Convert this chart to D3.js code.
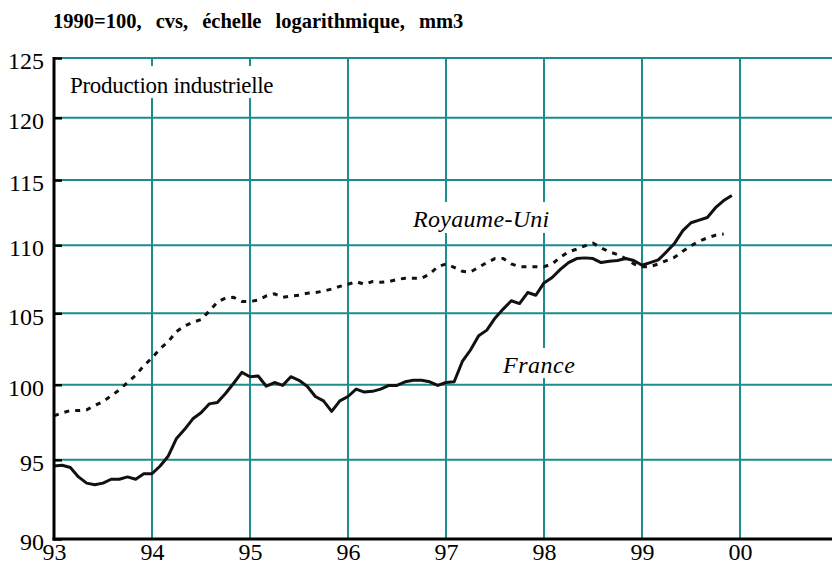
<!DOCTYPE html>
<html>
<head>
<meta charset="utf-8">
<script src="https://cdn.jsdelivr.net/npm/d3@7"></script>
<style>
  html, body { margin: 0; padding: 0; background: #fff; }
  svg { display: block; }
</style>
</head>
<body>
<svg id="chart" width="832" height="565"></svg>
<script>
// ---- Data (monthly, index 1990 = 100, seasonally adjusted, 3-month moving average) ----
const startYear = 1993;
const franceValues = [
  94.6, 94.65, 94.5, 93.9, 93.5, 93.4, 93.5, 93.75, 93.75, 93.9, 93.75, 94.1,
  94.1, 94.6, 95.25, 96.4, 97.0, 97.7, 98.1, 98.7, 98.8, 99.4, 100.1, 100.85,
  100.55, 100.6, 99.9, 100.15, 99.95, 100.55, 100.3, 99.9, 99.2, 98.9, 98.2, 98.9,
  99.2, 99.7, 99.5, 99.55, 99.7, 99.95, 99.95, 100.2, 100.3, 100.3, 100.2, 99.95,
  100.15, 100.2, 101.6, 102.4, 103.4, 103.8, 104.65, 105.3, 105.9, 105.7, 106.5, 106.3,
  107.2, 107.6, 108.2, 108.7, 109.0, 109.05, 109.0, 108.7, 108.8, 108.85, 109.0, 108.85,
  108.5, 108.7, 108.9, 109.5, 110.15, 111.1, 111.7, 111.9, 112.1, 112.85, 113.4, 113.8
];
const ukValues = [
  97.9, 98.1, 98.25, 98.25, 98.3, 98.6, 98.85, 99.25, 99.65, 100.15, 100.65, 101.3,
  101.85, 102.5, 103.0, 103.7, 104.1, 104.35, 104.55, 105.15, 105.8, 106.1, 106.15, 105.85,
  105.85, 105.95, 106.25, 106.4, 106.15, 106.25, 106.3, 106.45, 106.5, 106.6, 106.75, 106.95,
  107.1, 107.3, 107.1, 107.3, 107.25, 107.3, 107.45, 107.55, 107.55, 107.55, 107.85, 108.4,
  108.6, 108.35, 108.05, 108.0, 108.35, 108.7, 109.0, 109.0, 108.6, 108.4, 108.4, 108.4,
  108.4, 108.6, 109.1, 109.5, 109.7, 109.95, 110.15, 109.8, 109.5, 109.3, 109.0, 108.6,
  108.4, 108.4, 108.6, 108.85, 109.1, 109.55, 109.95, 110.3, 110.55, 110.75, 110.85
];
const yTickValues = [90, 95, 100, 105, 110, 115, 120, 125];
const xTickYears = [1993, 1994, 1995, 1996, 1997, 1998, 1999, 2000];
const xTickLabels = ["93", "94", "95", "96", "97", "98", "99", "00"];
const titleText = "1990=100, cvs, échelle logarithmique, mm3";
const panelTitle = "Production industrielle";
const seriesLabels = ["Royaume-Uni", "France"];

// ---- Layout ----
const svg = d3.select("#chart");
const plotLeft = 54, plotTop = 58, plotBottom = 539;
const gridColor = "#1f8c8c";
const serif = "Liberation Serif";

const x = d3.scaleLinear().domain([1993, 2001]).range([plotLeft, 838]);
const y = d3.scaleLog().domain([90, 125]).range([plotBottom, plotTop]);

svg.append("rect").attr("width", 832).attr("height", 565).attr("fill", "#fff");

// Title
svg.append("text")
  .attr("x", 53).attr("y", 28)
  .attr("font-family", serif)
  .attr("font-size", 20.5).attr("font-weight", "bold")
  .attr("word-spacing", 9)
  .attr("fill", "#000")
  .text(titleText);

// Grid
const grid = svg.append("g");
grid.selectAll("line.h")
  .data(yTickValues.filter(v => v !== 90))
  .join("line")
  .attr("x1", plotLeft).attr("x2", 832)
  .attr("y1", d => y(d)).attr("y2", d => y(d))
  .attr("stroke", gridColor).attr("stroke-width", 2);
grid.selectAll("line.v")
  .data(xTickYears.filter(v => v !== 1993))
  .join("line")
  .attr("x1", d => x(d)).attr("x2", d => x(d))
  .attr("y1", plotTop).attr("y2", plotBottom)
  .attr("stroke", gridColor).attr("stroke-width", 2);

// Label boxes (interrupt grid)
function labelBox(x0, y0, w, h) {
  svg.append("rect").attr("x", x0).attr("y", y0).attr("width", w).attr("height", h).attr("fill", "#fff");
}
labelBox(64, 66, 222, 32);
labelBox(408, 202, 150, 31);
labelBox(499, 348, 80, 30);

svg.append("text").attr("x", 70).attr("y", 93).attr("font-size", 23)
  .attr("font-family", serif).attr("fill", "#000")
  .attr("letter-spacing", -0.3).text(panelTitle);
svg.append("text").attr("x", 413).attr("y", 227).attr("font-size", 24)
  .attr("font-family", serif).attr("fill", "#000")
  .attr("font-style", "italic").attr("letter-spacing", 0.3).text(seriesLabels[0]);
svg.append("text").attr("x", 503).attr("y", 373).attr("font-size", 24)
  .attr("font-family", serif).attr("fill", "#000")
  .attr("font-style", "italic").attr("letter-spacing", 0.5).text(seriesLabels[1]);

// Lines
const line = d3.line()
  .x((d, i) => x(startYear + i / 12))
  .y(d => y(d));

svg.append("path").datum(ukValues)
  .attr("d", line).attr("fill", "none")
  .attr("stroke", "#111").attr("stroke-width", 3)
  .attr("stroke-dasharray", "5,6");

svg.append("path").datum(franceValues)
  .attr("d", line).attr("fill", "none")
  .attr("stroke", "#111").attr("stroke-width", 3)
  .attr("stroke-linejoin", "round");

// Axes
const yAxis = d3.axisLeft(y).tickValues(yTickValues).tickSize(-8).tickFormat(d3.format("d")).tickPadding(18);
const gy = svg.append("g").attr("transform", `translate(${plotLeft},0)`).call(yAxis);
gy.attr("font-family", serif).attr("font-size", 24);
gy.select(".domain").attr("stroke", "#000").attr("stroke-width", 3).attr("d", `M0,${plotTop - 1}V${plotBottom + 1.5}`);
gy.selectAll(".tick line").attr("stroke", "#000").attr("stroke-width", 2.5);
gy.selectAll(".tick text")
  .attr("font-family", serif)
  .attr("x", -10).attr("dy", "0.45em").attr("fill", "#000");

const xAxis = d3.axisBottom(x).tickValues(xTickYears).tickSize(0)
  .tickFormat((d, i) => xTickLabels[i]);
const gx = svg.append("g").attr("transform", `translate(0,${plotBottom})`).call(xAxis);
gx.attr("font-family", serif).attr("font-size", 24);
gx.select(".domain").attr("stroke", "#000").attr("stroke-width", 3).attr("d", `M${plotLeft - 1.5},0H832`);
gx.selectAll(".tick text")
  .attr("font-family", serif)
  .attr("y", 21).attr("dy", 0).attr("fill", "#000");
</script>
</body>
</html>
